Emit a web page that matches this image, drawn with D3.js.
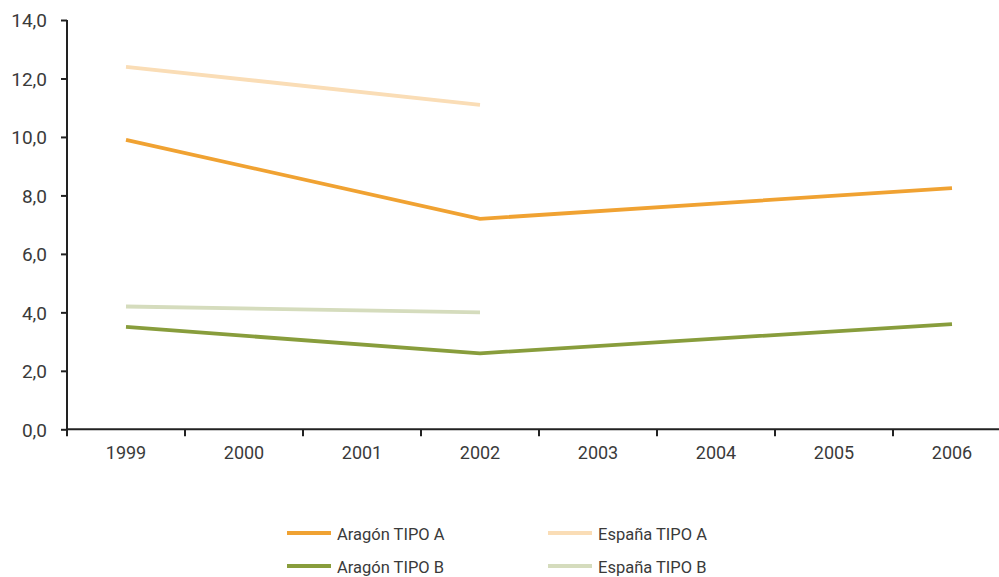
<!DOCTYPE html>
<html><head><meta charset="utf-8">
<script src="https://cdn.jsdelivr.net/npm/d3@7"></script>
<style>body{margin:0;background:#fff}svg{display:block}text{font-family:Roboto,"Open Sans",sans-serif;fill:#3a3a3a}</style>
</head><body><svg id="c" width="999" height="577"></svg>
<script>
const years = ["1999","2000","2001","2002","2003","2004","2005","2006"];
const yTicks = [0,2,4,6,8,10,12,14];
const aragonA = [9.9,null,null,7.2,null,null,null,8.25];
const espanaA = [12.4,null,null,11.1,null,null,null,null];
const aragonB = [3.5,null,null,2.6,null,null,null,3.6];
const espanaB = [4.2,null,null,4.0,null,null,null,null];
const seriesNames = ["Aragón TIPO A","España TIPO A","Aragón TIPO B","España TIPO B"];
const seriesColors = ["#F0A232","#FADDB6","#889D3C","#D5DCBD"];

const series = [aragonA, espanaA, aragonB, espanaB];
const svg = d3.select("#c");
const x = d3.scaleBand().domain(years).range([67, 67+118*8]);
const y = d3.scaleLinear().domain([0,14]).range([429.3, 20]);

// y axis
const ya = svg.append("g").attr("transform","translate(67,0)")
  .call(d3.axisLeft(y).tickValues(yTicks).tickSize(6).tickPadding(14).tickFormat(d=>d3.format(".1f")(d).replace(".",",")));
ya.selectAll("path,line").attr("stroke","#222").attr("stroke-width",2);
ya.select("path").attr("d","M0,20V429.3");
ya.selectAll("text").attr("font-size",19).attr("dy","0.36em");

// x axis
const xa = svg.append("g").attr("transform","translate(0,429.3)")
  .call(d3.axisBottom(x).tickSize(0).tickPadding(15));
xa.select("path").attr("d","M67,0H999").attr("stroke","#222").attr("stroke-width",2);
xa.selectAll("text").attr("font-size",18).attr("y",30).attr("dy",0);
// separators between bands
xa.selectAll(".sep").data(years.slice(1)).enter().append("line")
  .attr("x1",d=>x(d)).attr("x2",d=>x(d)).attr("y1",0).attr("y2",7)
  .attr("stroke","#222").attr("stroke-width",2);
xa.append("line").attr("x1",67).attr("x2",67).attr("y1",0).attr("y2",7).attr("stroke","#222").attr("stroke-width",2);

// lines (connect across missing years)
series.forEach((s,i)=>{
  const pts = years.map((yr,j)=>[yr,s[j]]).filter(p=>p[1]!=null);
  svg.append("path").datum(pts)
    .attr("fill","none").attr("stroke",seriesColors[i]).attr("stroke-width",3.8)
    .attr("d",d3.line().x(p=>x(p[0])+x.bandwidth()/2).y(p=>y(p[1])));
});

// legend
const legPos = [[287,533],[548,533],[287,566],[548,566]];
seriesNames.forEach((n,i)=>{
  const g = svg.append("g").attr("transform",`translate(${legPos[i][0]},${legPos[i][1]})`);
  g.append("line").attr("x1",0).attr("x2",44).attr("stroke",seriesColors[i]).attr("stroke-width",3.8);
  g.append("text").attr("x",50).attr("y",6.5).attr("font-size",16.5).text(n);
});
</script></body></html>
